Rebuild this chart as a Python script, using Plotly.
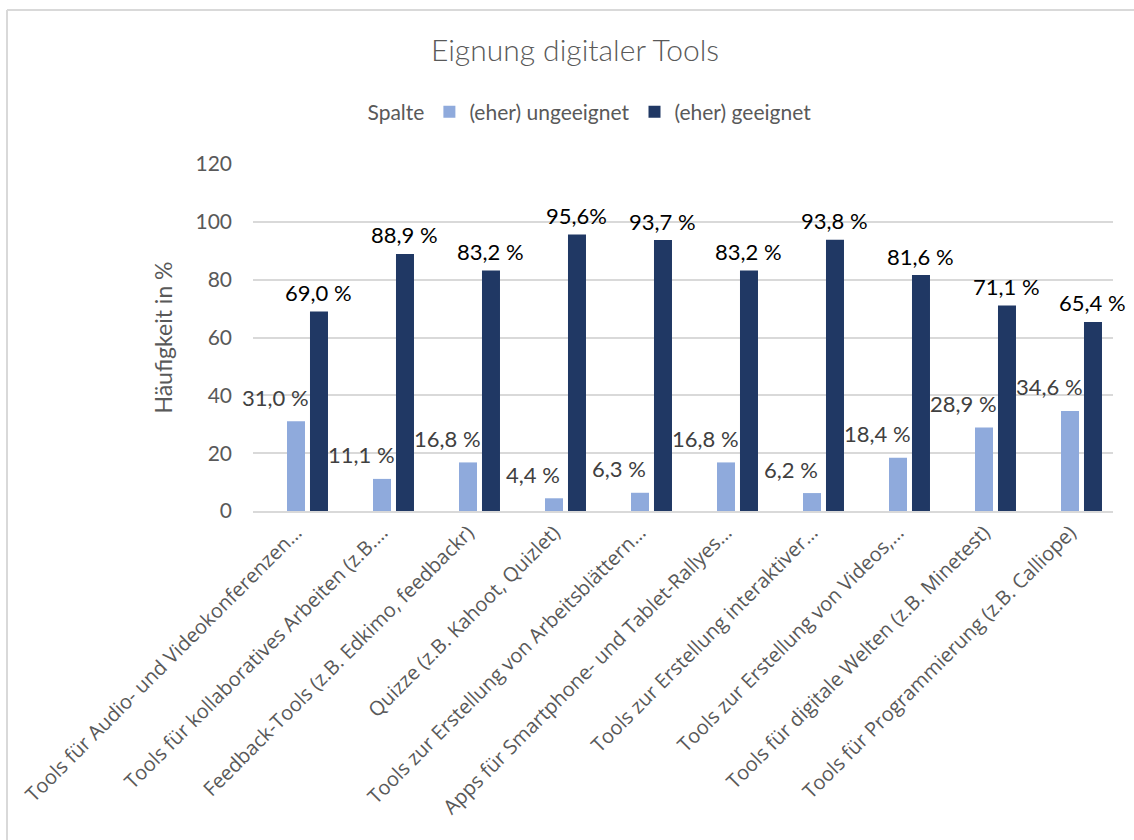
import plotly.graph_objects as go

# Kategorien (Achsenbeschriftungen, bereits gekürzt)
categories = [
    "Tools für Audio- und Videokonferenzen…",
    "Tools für kollaboratives Arbeiten (z.B.…",
    "Feedback-Tools (z.B. Edkimo, feedbackr)",
    "Quizze (z.B. Kahoot, Quizlet)",
    "Tools zur Erstellung von Arbeitsblättern…",
    "Apps für Smartphone- und Tablet-Rallyes…",
    "Tools zur Erstellung interaktiver…",
    "Tools zur Erstellung von Videos,…",
    "Tools für digitale Welten (z.B. Minetest)",
    "Tools für Programmierung (z.B. Calliope)",
]

# Leere Spalte (nur Legendeneintrag)
spalte = [None] * 10

# Anteile in %
ungeeignet = [31.0, 11.1, 16.8, 4.4, 6.3, 16.8, 6.2, 18.4, 28.9, 34.6]
geeignet = [69.0, 88.9, 83.2, 95.6, 93.7, 83.2, 93.8, 81.6, 71.1, 65.4]

ungeeignet_labels = ["31,0 %", "11,1 %", "16,8 %", "4,4 %", "6,3 %",
                     "16,8 %", "6,2 %", "18,4 %", "28,9 %", "34,6 %"]
geeignet_labels = ["69,0 %", "88,9 %", "83,2 %", "95,6%", "93,7 %",
                   "83,2 %", "93,8 %", "81,6 %", "71,1 %", "65,4 %"]

y_ticks = [0, 20, 40, 60, 80, 100, 120]

LIGHT = "#8faadc"
DARK = "#203864"
GREY = "#595959"
GRID = "#d9d9d9"
FONT = "Lato"

BARGAP = 0.198
GROUPGAP = 0.217
N_SERIES = 3
slot = (1 - BARGAP) / N_SERIES

x = list(range(len(categories)))

fig = go.Figure()
fig.add_trace(go.Bar(name="Spalte", x=x, y=spalte,
                     marker=dict(color="rgba(0,0,0,0)",
                                 line=dict(width=0, color="rgba(0,0,0,0)"))))
fig.add_trace(go.Bar(name="(eher) ungeeignet", x=x, y=ungeeignet,
                     marker=dict(color=LIGHT, line=dict(width=0))))
fig.add_trace(go.Bar(name="(eher) geeignet", x=x, y=geeignet,
                     marker=dict(color=DARK, line=dict(width=0))))

annotations = []
for i, (v, t) in enumerate(zip(ungeeignet, ungeeignet_labels)):
    annotations.append(dict(
        x=i, y=v, xref="x", yref="y", text=t, showarrow=False,
        xanchor="center", yanchor="middle", xshift=-21, yshift=24,
        font=dict(family=FONT, size=22, color="#404040")))
for i, (v, t) in enumerate(zip(geeignet, geeignet_labels)):
    annotations.append(dict(
        x=i + slot, y=v, xref="x", yref="y", text=t, showarrow=False,
        xanchor="center", yanchor="middle", yshift=19,
        font=dict(family=FONT, size=22, color="#000000")))

L, R, T, B = 253, 21, 164, 329
W, H = 1134, 840
pw, ph = W - L - R, H - T - B

# Rahmen oben und links
frame_top = (H - B - 10) / ph
frame_left = (7 - L) / pw
frame_right = (W + 20 - L) / pw
frame_bottom = (H - B - H - 20) / ph

fig.update_layout(
    width=W, height=H,
    margin=dict(l=L, r=R, t=T, b=B),
    paper_bgcolor="white", plot_bgcolor="white",
    barmode="group", bargap=BARGAP, bargroupgap=GROUPGAP,
    title=dict(text="Eignung digitaler Tools", x=575 / W, xanchor="center",
               y=1 - 50 / H, yanchor="middle",
               font=dict(family=FONT, size=30, color=GREY, weight=300)),
    legend=dict(orientation="h", x=(572 - L) / pw, xanchor="center",
                y=(H - B - 112) / ph, yanchor="middle",
                font=dict(family=FONT, size=21, color=GREY),
                traceorder="normal"),
    xaxis=dict(range=[-0.5, len(categories) - 0.5], tickvals=x,
               ticktext=categories, tickangle=-45,
               tickfont=dict(family="Open Sans", size=20, color=GREY),
               showgrid=False, showline=True, linecolor=GRID, linewidth=2,
               ticks="", zeroline=False),
    yaxis=dict(range=[0, 120], tickvals=y_ticks,
               tickfont=dict(family=FONT, size=21, color=GREY),
               showgrid=True, gridcolor=GRID, gridwidth=2,
               zeroline=False, showline=False, ticks="",
               ticklabelstandoff=20,
               title=dict(text="Häufigkeit in %", standoff=16,
                          font=dict(family=FONT, size=23, color=GREY))),
    annotations=annotations,
    shapes=[
        dict(type="line", xref="paper", yref="paper",
             x0=frame_left, x1=frame_right, y0=frame_top, y1=frame_top,
             line=dict(color=GRID, width=2), layer="below"),
        dict(type="line", xref="paper", yref="paper",
             x0=frame_left, x1=frame_left, y0=frame_bottom, y1=frame_top,
             line=dict(color=GRID, width=2), layer="below"),
    ],
)

fig.write_html("out.html")
